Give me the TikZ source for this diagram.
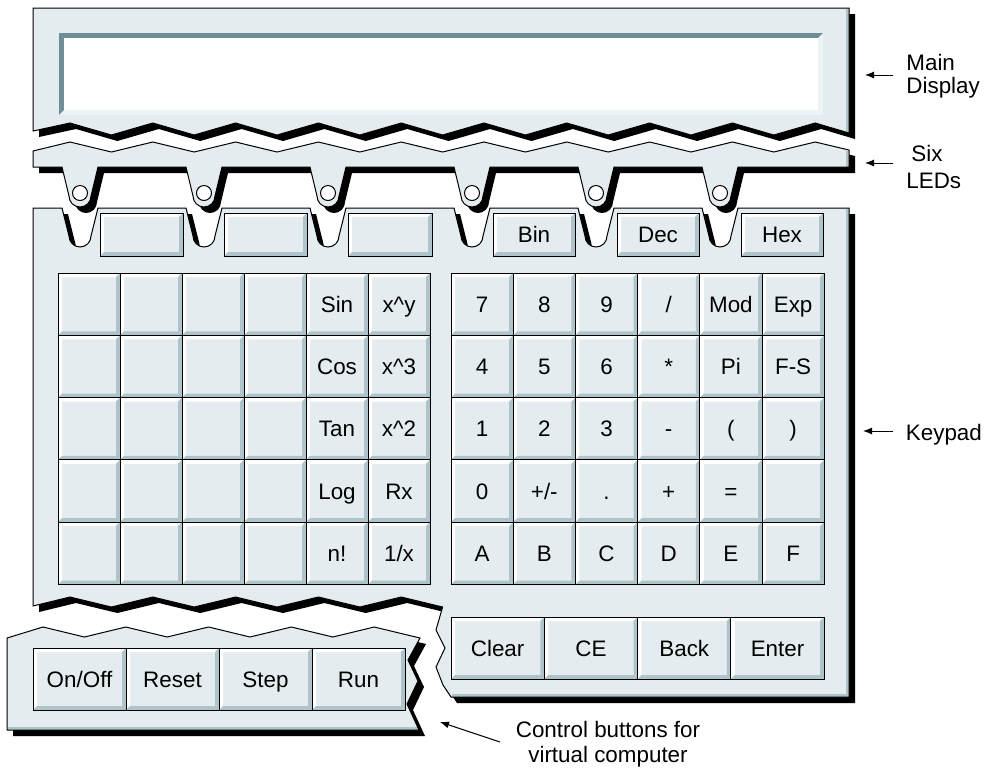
\documentclass[tikz,border=0pt]{standalone}
\usepackage{fontspec}
\setmainfont{Liberation Sans}
\usetikzlibrary{arrows.meta}
\definecolor{panelc}{HTML}{E4ECEF}
\definecolor{shadec}{HTML}{AFC4CA}
\definecolor{darkc}{HTML}{6F8D94}
\definecolor{lightc}{HTML}{EEF3F5}

\newcommand\notchR[1]{-- ({#1-18},208) -- ({#1-11},236) arc[start angle=180,end angle=0,radius=11] -- ({#1+18},208)}
\newcommand\tabL[1]{-- ({#1+18},167) -- ({#1+11},196) arc[start angle=0,end angle=180,radius=11] -- ({#1-18},167)}

\newcommand\dispPath{(33,8) -- (849,8) -- (849,133) -- (815.2,123) -- (773.8,135) -- (732.4,123) -- (691,135) -- (649.6,123) -- (608.2,135) -- (566.8,123) -- (525.4,135) -- (484,123) -- (442.6,135) -- (401.2,123) -- (359.8,135) -- (318.4,123) -- (277,135) -- (235.6,123) -- (194.2,135) -- (152.8,123) -- (111.4,135) -- (70,123) -- (33,131) -- cycle}

\newcommand\stripPath{(33,151) -- (70,142) -- (111.4,152) -- (152.8,142) -- (194.2,152) -- (235.6,142) -- (277,152) -- (318.4,142) -- (359.8,152) -- (401.2,142) -- (442.6,152) -- (484,142) -- (525.4,152) -- (566.8,142) -- (608.2,152) -- (649.6,142) -- (691,152) -- (732.4,142) -- (773.8,152) -- (815.2,142) -- (849,150) -- (849,167) \tabL{720} \tabL{596} \tabL{472} \tabL{328} \tabL{204} \tabL{80} -- (33,167) -- cycle}

\newcommand\keyPath{(33,208) \notchR{80} \notchR{204} \notchR{328} \notchR{472} \notchR{596} \notchR{720} -- (849,208) -- (849,697) -- (451,697) -- (443,685) -- (436,667) -- (445,648) -- (436,630) -- (442.6,607) -- (401.2,597) -- (359.8,607) -- (318.4,597) -- (277,607) -- (235.6,597) -- (194.2,607) -- (152.8,597) -- (111.4,607) -- (70,597) -- (33,606) -- cycle}

\newcommand\ctrlPath{(7,638) -- (43,627) -- (84.4,637) -- (125.8,627) -- (167.2,637) -- (208.6,627) -- (250,637) -- (291.4,627) -- (332.8,637) -- (374.2,627) -- (420,638) -- (408,660) -- (418,681) -- (407,704) -- (419,730) -- (7,730) -- cycle}

% button: x1 y1 x2 y2 name text
\newcommand\btn[6]{%
  \fill[panelc] ({#1},{#2}) rectangle ({#3},{#4});
  \fill[white] ({#1},{#2}) -- ({#3},{#2}) -- ({#3-4},{#2+4}) -- ({#1+4},{#2+4}) -- ({#1+4},{#4-4}) -- ({#1},{#4}) -- cycle;
  \fill[shadec] ({#3},{#2}) -- ({#3},{#4}) -- ({#1},{#4}) -- ({#1+4},{#4-4}) -- ({#3-4},{#4-4}) -- ({#3-4},{#2+4}) -- cycle;
  \draw[btnline] ({#1},{#2}) rectangle ({#3},{#4});
  \node[btntext] (#5) at ({(#1+#3)/2},{(#2+#4)/2+8}) {#6};
}
\newcommand\lrow[3]{%
  \btn{58}{273+62.3*#1}{120}{335.3+62.3*#1}{L#1a}{}
  \btn{120}{273+62.3*#1}{182}{335.3+62.3*#1}{L#1b}{}
  \btn{182}{273+62.3*#1}{244}{335.3+62.3*#1}{L#1c}{}
  \btn{244}{273+62.3*#1}{306}{335.3+62.3*#1}{L#1d}{}
  \btn{306}{273+62.3*#1}{368}{335.3+62.3*#1}{L#1e}{#2}
  \btn{368}{273+62.3*#1}{430}{335.3+62.3*#1}{L#1f}{#3}
}
\newcommand\rrow[7]{%
  \btn{451}{273+62.3*#1}{513.2}{335.3+62.3*#1}{R#1a}{#2}
  \btn{513.2}{273+62.3*#1}{575.4}{335.3+62.3*#1}{R#1b}{#3}
  \btn{575.4}{273+62.3*#1}{637.6}{335.3+62.3*#1}{R#1c}{#4}
  \btn{637.6}{273+62.3*#1}{699.8}{335.3+62.3*#1}{R#1d}{#5}
  \btn{699.8}{273+62.3*#1}{762}{335.3+62.3*#1}{R#1e}{#6}
  \btn{762}{273+62.3*#1}{824.2}{335.3+62.3*#1}{R#1f}{#7}
}

\begin{document}
\begin{tikzpicture}[x=0.5pt,y=-0.5pt,
  btnline/.style={draw=black,line width=0.5pt},
  btntext/.style={font=\fontsize{11.2}{13}\selectfont,inner sep=0pt,anchor=base},
  outline/.style={draw=black,line width=0.5pt},
  lbl/.style={font=\fontsize{11.2}{13}\selectfont,inner sep=0pt},
  pointer/.style={line width=0.5pt,-{Latex[length=4.5pt,width=3.5pt]}}]
\useasboundingbox (0,0) rectangle (985,767);
\fill[white] (0,0) rectangle (985,767);

% ---- main display panel
\begin{scope}[shift={(6,6)}]\fill[black] \dispPath;\end{scope}
\fill[panelc] \dispPath;
\fill[shadec] (845.5,8.5) rectangle (848.6,132.5);
\draw[outline] \dispPath;
\fill[darkc] (59,33) rectangle (823,115);
\fill[lightc] (823,33) -- (823,115) -- (59,115) -- (64,110) -- (818,110) -- (818,38) -- cycle;
\fill[white] (64,38) rectangle (818,110);

% ---- LED strip
\begin{scope}[shift={(6,6)}]\fill[black] \stripPath;\end{scope}
\fill[panelc] \stripPath;
\fill[shadec] (845.5,151) rectangle (848.6,166.6);
\draw[outline] \stripPath;
\foreach \c in {80,204,328,472,596,720}
  \filldraw[fill=white,draw=black,line width=0.5pt] (\c,193) circle[radius=7.5];

% ---- keypad panel
\begin{scope}[shift={(6,6)}]\fill[black] \keyPath;\end{scope}
\fill[panelc] \keyPath;
\fill[shadec] (845.5,208.5) rectangle (848.6,696.6);
\fill[shadec] (452,693.5) rectangle (848.6,696.6);
\draw[outline] \keyPath;

% top row buttons
\btn{100}{213}{183}{256}{T1}{}
\btn{224}{213}{307}{256}{T2}{}
\btn{348}{213}{432}{256}{T3}{}
\btn{493}{213}{575}{256}{Tbin}{Bin}
\btn{617}{213}{699}{256}{Tdec}{Dec}
\btn{741}{213}{823}{256}{Thex}{Hex}

% left grid
\lrow{0}{Sin}{x\textasciicircum y}
\lrow{1}{Cos}{x\textasciicircum 3}
\lrow{2}{Tan}{x\textasciicircum 2}
\lrow{3}{Log}{Rx}
\lrow{4}{n!}{1/x}

% right grid
\rrow{0}{7}{8}{9}{/}{Mod}{Exp}
\rrow{1}{4}{5}{6}{*}{Pi}{F-S}
\rrow{2}{1}{2}{3}{-}{(}{)}
\rrow{3}{0}{+/-}{.}{+}{=}{}
\rrow{4}{A}{B}{C}{D}{E}{F}

% bottom row
\btn{451}{617}{544.3}{679}{Bclear}{Clear}
\btn{544.3}{617}{637.6}{679}{Bce}{CE}
\btn{637.6}{617}{730.9}{679}{Bback}{Back}
\btn{730.9}{617}{824.2}{679}{Benter}{Enter}

% ---- control panel
\begin{scope}[shift={(6,6)}]\fill[black] \ctrlPath;\end{scope}
\fill[panelc] \ctrlPath;
\fill[shadec] (7.5,726.5) rectangle (418,729.6);
\draw[outline] \ctrlPath;
\btn{33}{648}{126}{710}{Con}{On/Off}
\btn{126}{648}{219}{710}{Creset}{Reset}
\btn{219}{648}{312}{710}{Cstep}{Step}
\btn{312}{648}{405}{710}{Crun}{Run}

% ---- labels and pointers
\node[lbl,anchor=base west] (mainA) at (906,70) {Main};
\node[lbl,anchor=base west] (mainB) at (906,93) {Display};
\node[lbl,anchor=base west] (sixA) at (911,161) {Six};
\node[lbl,anchor=base west] (sixB) at (906,188) {LEDs};
\node[lbl,anchor=base west] (keyA) at (905.5,440) {Keypad};
\node[lbl,anchor=base] (ctlA) at (608,737) {Control buttons for};
\node[lbl,anchor=base] (ctlB) at (608,762) {virtual computer};

\coordinate (pMainS) at (893,75);  \coordinate (pMainE) at (865,75);
\coordinate (pSixS) at (893,163);  \coordinate (pSixE) at (865,163);
\coordinate (pKeyS) at (893,431);  \coordinate (pKeyE) at (863,431);
\coordinate (pCtlS) at (500,742);  \coordinate (pCtlE) at (440,722);
\draw[pointer] (pMainS) -- (pMainE);
\draw[pointer] (pSixS) -- (pSixE);
\draw[pointer] (pKeyS) -- (pKeyE);
\draw[pointer] (pCtlS) -- (pCtlE);
\end{tikzpicture}
\end{document}
